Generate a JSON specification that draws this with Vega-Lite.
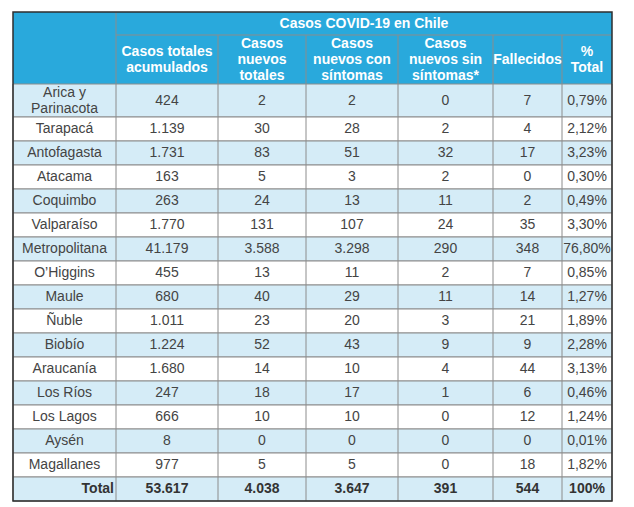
{
  "$schema": "https://vega.github.io/schema/vega-lite/v6.json",
  "width": 634,
  "height": 507,
  "padding": 0,
  "autosize": {"type": "none"},
  "config": {
    "view": {"stroke": null},
    "locale": {"number": {"decimal": ",", "thousands": ".", "grouping": [3], "currency": ["$", ""]}},
    "text": {"font": "Liberation Sans"}
  },
  "datasets": {
    "rows": [
      {"region": "Arica y Parinacota", "total": 424, "nuevos": 2, "con": 2, "sin": 0, "fall": 7, "pct": 0.0079},
      {"region": "Tarapacá", "total": 1139, "nuevos": 30, "con": 28, "sin": 2, "fall": 4, "pct": 0.0212},
      {"region": "Antofagasta", "total": 1731, "nuevos": 83, "con": 51, "sin": 32, "fall": 17, "pct": 0.0323},
      {"region": "Atacama", "total": 163, "nuevos": 5, "con": 3, "sin": 2, "fall": 0, "pct": 0.0030},
      {"region": "Coquimbo", "total": 263, "nuevos": 24, "con": 13, "sin": 11, "fall": 2, "pct": 0.0049},
      {"region": "Valparaíso", "total": 1770, "nuevos": 131, "con": 107, "sin": 24, "fall": 35, "pct": 0.0330},
      {"region": "Metropolitana", "total": 41179, "nuevos": 3588, "con": 3298, "sin": 290, "fall": 348, "pct": 0.7680},
      {"region": "O’Higgins", "total": 455, "nuevos": 13, "con": 11, "sin": 2, "fall": 7, "pct": 0.0085},
      {"region": "Maule", "total": 680, "nuevos": 40, "con": 29, "sin": 11, "fall": 14, "pct": 0.0127},
      {"region": "Ñuble", "total": 1011, "nuevos": 23, "con": 20, "sin": 3, "fall": 21, "pct": 0.0189},
      {"region": "Biobío", "total": 1224, "nuevos": 52, "con": 43, "sin": 9, "fall": 9, "pct": 0.0228},
      {"region": "Araucanía", "total": 1680, "nuevos": 14, "con": 10, "sin": 4, "fall": 44, "pct": 0.0313},
      {"region": "Los Ríos", "total": 247, "nuevos": 18, "con": 17, "sin": 1, "fall": 6, "pct": 0.0046},
      {"region": "Los Lagos", "total": 666, "nuevos": 10, "con": 10, "sin": 0, "fall": 12, "pct": 0.0124},
      {"region": "Aysén", "total": 8, "nuevos": 0, "con": 0, "sin": 0, "fall": 0, "pct": 0.0001},
      {"region": "Magallanes", "total": 977, "nuevos": 5, "con": 5, "sin": 0, "fall": 18, "pct": 0.0182},
      {"region": "Total", "total": 53617, "nuevos": 4038, "con": 3647, "sin": 391, "fall": 544, "pct": 1}
    ],
    "cols": [
      {"key": "total", "header": "Casos totales\nacumulados"},
      {"key": "nuevos", "header": "Casos\nnuevos\ntotales"},
      {"key": "con", "header": "Casos\nnuevos con\nsíntomas"},
      {"key": "sin", "header": "Casos\nnuevos sin\nsíntomas*"},
      {"key": "fall", "header": "Fallecidos"},
      {"key": "pct", "header": "%\nTotal"}
    ]
  },
  "layer": [
    {
      "data": {"values": [{}]},
      "mark": {"type": "rect", "fill": "#29a9dc"},
      "encoding": {
        "x": {"datum": 0, "type": "quantitative", "axis": null, "scale": {"domain": [0, 1, 2, 3, 4, 5, 6, 7], "range": [13, 116, 218, 306, 398, 493, 562, 612], "nice": false, "zero": false}},
        "x2": {"datum": 7},
        "y": {"datum": 0, "type": "quantitative", "axis": null, "scale": {"domain": [0, 1, 2, 3, 19], "range": [12, 35, 84, 117, 501], "nice": false, "zero": false}},
        "y2": {"datum": 2}
      }
    },
    {
      "data": {"name": "rows"},
      "transform": [
        {"window": [{"op": "row_number", "as": "rn"}]},
        {"calculate": "datum.rn + 1", "as": "y0"},
        {"calculate": "datum.rn + 2", "as": "y1"}
      ],
      "mark": {"type": "rect", "stroke": "#8c8c8c", "strokeWidth": 1},
      "encoding": {
        "x": {"datum": 0, "type": "quantitative"},
        "x2": {"datum": 7},
        "y": {"field": "y0", "type": "quantitative"},
        "y2": {"field": "y1"},
        "fill": {"condition": {"test": "datum.rn % 2 == 1", "value": "#d5ecf7"}, "value": "#ffffff"}
      }
    },
    {
      "data": {"values": [{}]},
      "mark": {"type": "rule", "stroke": "#8c8c8c", "strokeWidth": 1},
      "encoding": {
        "x": {"datum": 1, "type": "quantitative"},
        "x2": {"datum": 7},
        "y": {"datum": 1, "type": "quantitative"}
      }
    },
    {
      "data": {"name": "cols"},
      "transform": [
        {"window": [{"op": "row_number", "as": "ci"}]},
        {"calculate": "datum.ci == 1 ? 0 : 1", "as": "ytop"}
      ],
      "mark": {"type": "rule", "stroke": "#8c8c8c", "strokeWidth": 1},
      "encoding": {
        "x": {"field": "ci", "type": "quantitative"},
        "y": {"field": "ytop", "type": "quantitative"},
        "y2": {"datum": 19}
      }
    },
    {
      "data": {"values": [{}]},
      "mark": {"type": "rect", "filled": false, "stroke": "#2e2e2e", "strokeWidth": 1.5},
      "encoding": {
        "x": {"datum": 0, "type": "quantitative"},
        "x2": {"datum": 7},
        "y": {"datum": 0, "type": "quantitative"},
        "y2": {"datum": 19}
      }
    },
    {
      "data": {"values": [{}]},
      "mark": {"type": "text", "text": "Casos COVID-19 en Chile", "fill": "#ffffff", "fontWeight": "bold", "fontSize": 14, "baseline": "middle", "align": "center"},
      "encoding": {
        "x": {"datum": 3.63, "type": "quantitative"},
        "y": {"datum": 0.5, "type": "quantitative"}
      }
    },
    {
      "data": {"name": "cols"},
      "transform": [
        {"window": [{"op": "row_number", "as": "ci"}]},
        {"calculate": "datum.ci + 0.5", "as": "xm"},
        {"calculate": "length(split(datum.header, '\\n'))", "as": "nl"},
        {"filter": "datum.nl == 3"}
      ],
      "mark": {"type": "text", "fill": "#ffffff", "fontWeight": "bold", "fontSize": 14, "lineHeight": 16, "lineBreak": "\n", "baseline": "middle", "align": "center", "dy": -16},
      "encoding": {
        "x": {"field": "xm", "type": "quantitative"},
        "y": {"datum": 1.5, "type": "quantitative"},
        "text": {"field": "header", "type": "nominal"}
      }
    },
    {
      "data": {"name": "cols"},
      "transform": [
        {"window": [{"op": "row_number", "as": "ci"}]},
        {"calculate": "datum.ci + 0.5", "as": "xm"},
        {"calculate": "length(split(datum.header, '\\n'))", "as": "nl"},
        {"filter": "datum.nl == 2"}
      ],
      "mark": {"type": "text", "fill": "#ffffff", "fontWeight": "bold", "fontSize": 14, "lineHeight": 16, "lineBreak": "\n", "baseline": "middle", "align": "center", "dy": -8},
      "encoding": {
        "x": {"field": "xm", "type": "quantitative"},
        "y": {"datum": 1.5, "type": "quantitative"},
        "text": {"field": "header", "type": "nominal"}
      }
    },
    {
      "data": {"name": "cols"},
      "transform": [
        {"window": [{"op": "row_number", "as": "ci"}]},
        {"calculate": "datum.ci + 0.5", "as": "xm"},
        {"calculate": "length(split(datum.header, '\\n'))", "as": "nl"},
        {"filter": "datum.nl == 1"}
      ],
      "mark": {"type": "text", "fill": "#ffffff", "fontWeight": "bold", "fontSize": 14, "baseline": "middle", "align": "center"},
      "encoding": {
        "x": {"field": "xm", "type": "quantitative"},
        "y": {"datum": 1.5, "type": "quantitative"},
        "text": {"field": "header", "type": "nominal"}
      }
    },
    {
      "data": {"name": "rows"},
      "transform": [
        {"window": [{"op": "row_number", "as": "rn"}]},
        {"filter": "datum.region != 'Total' && datum.rn != 1"},
        {"calculate": "datum.rn + 1.5", "as": "ym"}
      ],
      "mark": {"type": "text", "fill": "#444444", "fontSize": 14, "baseline": "middle", "align": "center"},
      "encoding": {
        "x": {"datum": 0.5, "type": "quantitative"},
        "y": {"field": "ym", "type": "quantitative"},
        "text": {"field": "region", "type": "nominal"}
      }
    },
    {
      "data": {"name": "rows"},
      "transform": [
        {"window": [{"op": "row_number", "as": "rn"}]},
        {"filter": "datum.rn == 1"},
        {"calculate": "datum.rn + 1.5", "as": "ym"},
        {"calculate": "replace(datum.region, 'Arica y ', 'Arica y\\n')", "as": "label"}
      ],
      "mark": {"type": "text", "fill": "#444444", "fontSize": 14, "lineHeight": 16, "lineBreak": "\n", "baseline": "middle", "align": "center", "dy": -8},
      "encoding": {
        "x": {"datum": 0.5, "type": "quantitative"},
        "y": {"field": "ym", "type": "quantitative"},
        "text": {"field": "label", "type": "nominal"}
      }
    },
    {
      "data": {"name": "rows"},
      "transform": [
        {"window": [{"op": "row_number", "as": "rn"}]},
        {"filter": "datum.region == 'Total'"},
        {"calculate": "datum.rn + 1.5", "as": "ym"}
      ],
      "mark": {"type": "text", "fill": "#333333", "fontSize": 14, "fontWeight": "bold", "baseline": "middle", "align": "right", "dx": -2},
      "encoding": {
        "x": {"datum": 1, "type": "quantitative"},
        "y": {"field": "ym", "type": "quantitative"},
        "text": {"field": "region", "type": "nominal"}
      }
    },
    {
      "data": {"name": "rows"},
      "transform": [
        {"window": [{"op": "row_number", "as": "rn"}]},
        {"fold": ["total", "nuevos", "con", "sin", "fall"]},
        {"filter": "datum.region != 'Total'"},
        {"calculate": "indexof(['total','nuevos','con','sin','fall','pct'], datum.key) + 1.5", "as": "xm"},
        {"calculate": "datum.rn + 1.5", "as": "ym"}
      ],
      "mark": {"type": "text", "fill": "#444444", "fontSize": 14, "baseline": "middle", "align": "center"},
      "encoding": {
        "x": {"field": "xm", "type": "quantitative"},
        "y": {"field": "ym", "type": "quantitative"},
        "text": {"field": "value", "type": "quantitative", "format": ",d"}
      }
    },
    {
      "data": {"name": "rows"},
      "transform": [
        {"window": [{"op": "row_number", "as": "rn"}]},
        {"filter": "datum.region != 'Total'"},
        {"calculate": "datum.rn + 1.5", "as": "ym"}
      ],
      "mark": {"type": "text", "fill": "#444444", "fontSize": 14, "baseline": "middle", "align": "center"},
      "encoding": {
        "x": {"datum": 6.5, "type": "quantitative"},
        "y": {"field": "ym", "type": "quantitative"},
        "text": {"field": "pct", "type": "quantitative", "format": ".2%"}
      }
    },
    {
      "data": {"name": "rows"},
      "transform": [
        {"window": [{"op": "row_number", "as": "rn"}]},
        {"fold": ["total", "nuevos", "con", "sin", "fall"]},
        {"filter": "datum.region == 'Total'"},
        {"calculate": "indexof(['total','nuevos','con','sin','fall','pct'], datum.key) + 1.5", "as": "xm"},
        {"calculate": "datum.rn + 1.5", "as": "ym"}
      ],
      "mark": {"type": "text", "fill": "#333333", "fontSize": 14, "fontWeight": "bold", "baseline": "middle", "align": "center"},
      "encoding": {
        "x": {"field": "xm", "type": "quantitative"},
        "y": {"field": "ym", "type": "quantitative"},
        "text": {"field": "value", "type": "quantitative", "format": ",d"}
      }
    },
    {
      "data": {"name": "rows"},
      "transform": [
        {"window": [{"op": "row_number", "as": "rn"}]},
        {"filter": "datum.region == 'Total'"},
        {"calculate": "datum.rn + 1.5", "as": "ym"}
      ],
      "mark": {"type": "text", "fill": "#333333", "fontSize": 14, "fontWeight": "bold", "baseline": "middle", "align": "center"},
      "encoding": {
        "x": {"datum": 6.5, "type": "quantitative"},
        "y": {"field": "ym", "type": "quantitative"},
        "text": {"field": "pct", "type": "quantitative", "format": ".0%"}
      }
    }
  ]
}
